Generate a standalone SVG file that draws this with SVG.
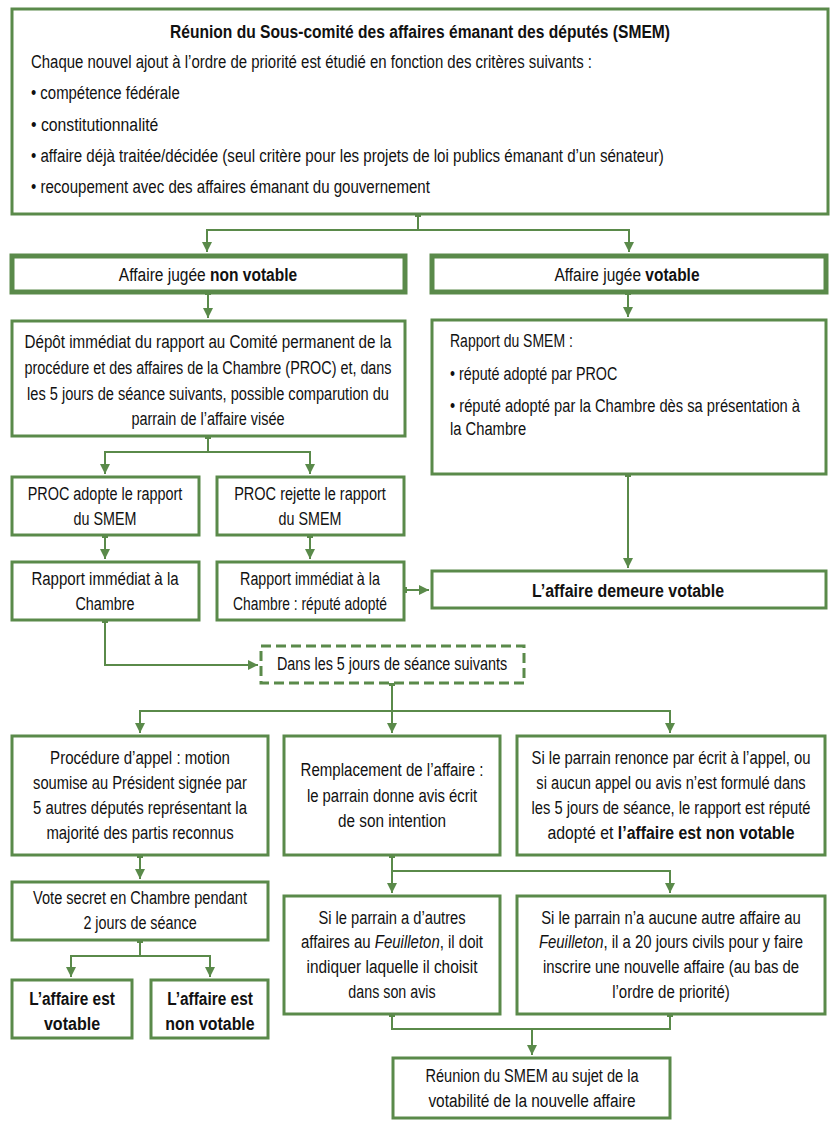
<svg xmlns="http://www.w3.org/2000/svg" width="838" height="1127" viewBox="0 0 838 1127">
<style>
.box{fill:#fff;stroke:#5a8a4a;stroke-width:3}
.heavy{stroke-width:5}
.dash{stroke-dasharray:10 5}
.conn{fill:none;stroke:#5a8a4a;stroke-width:2}
text{font-family:"Liberation Sans",Arial,sans-serif;font-size:19px;fill:#111}
.c{text-anchor:middle}
.b{font-weight:bold}
.i{font-style:italic}
</style>
<defs>
<marker id="ah" viewBox="0 0 10 10" refX="10" refY="5" markerWidth="10" markerHeight="10" markerUnits="userSpaceOnUse" orient="auto"><path d="M0,0 L10,5 L0,10 z" fill="#5a8a4a"/></marker>
<marker id="sq" viewBox="0 0 6 6" refX="3" refY="3" markerWidth="6" markerHeight="6" markerUnits="userSpaceOnUse"><rect width="6" height="6" fill="#5a8a4a"/></marker>
</defs>

<g id="connectors">
<path class="conn" marker-start="url(#sq)" marker-end="url(#ah)" d="M418,214 V230 H207 V252"/>
<path class="conn" marker-end="url(#ah)" d="M418,230 H629 V252"/>
<path class="conn" marker-start="url(#sq)" marker-end="url(#ah)" d="M208,292 V318"/>
<path class="conn" marker-start="url(#sq)" marker-end="url(#ah)" d="M628,292 V317"/>
<path class="conn" marker-start="url(#sq)" marker-end="url(#ah)" d="M208,436 V452 H105 V474"/>
<path class="conn" marker-end="url(#ah)" d="M208,452 H310 V474"/>
<path class="conn" marker-start="url(#sq)" marker-end="url(#ah)" d="M105,535 V559"/>
<path class="conn" marker-start="url(#sq)" marker-end="url(#ah)" d="M310,535 V559"/>
<path class="conn" marker-start="url(#sq)" marker-end="url(#ah)" d="M404,590 H429"/>
<path class="conn" marker-start="url(#sq)" marker-end="url(#ah)" d="M628,474 V568"/>
<path class="conn" marker-start="url(#sq)" marker-end="url(#ah)" d="M105,620 V665 H258"/>
<path class="conn" marker-start="url(#sq)" marker-end="url(#ah)" d="M392,683 V733"/>
<path class="conn" marker-end="url(#ah)" d="M392,711 H140 V733"/>
<path class="conn" marker-end="url(#ah)" d="M392,711 H670 V733"/>
<path class="conn" marker-start="url(#sq)" marker-end="url(#ah)" d="M140,855 V879"/>
<path class="conn" marker-start="url(#sq)" marker-end="url(#ah)" d="M140,940 V956 H71 V977"/>
<path class="conn" marker-end="url(#ah)" d="M140,956 H210 V977"/>
<path class="conn" marker-start="url(#sq)" marker-end="url(#ah)" d="M392,855 V893"/>
<path class="conn" marker-end="url(#ah)" d="M392,871 H670 V893"/>
<path class="conn" marker-start="url(#sq)" marker-end="url(#sq)" d="M392,1014 V1029 H670 V1014"/>
<path class="conn" marker-end="url(#ah)" d="M532,1029 V1055"/>
</g>

<g id="n_top">
<rect class="box" x="12" y="9" width="816" height="205"/>
<text class="c b" transform="translate(420,38) scale(0.76,1)" textLength="658" lengthAdjust="spacingAndGlyphs">Réunion du Sous-comité des affaires émanant des députés (SMEM)</text>
<text transform="translate(31,68) scale(0.74,1)" textLength="758" lengthAdjust="spacingAndGlyphs">Chaque nouvel ajout à l’ordre de priorité est étudié en fonction des critères suivants :</text>
<text transform="translate(31,99) scale(0.74,1)" textLength="201" lengthAdjust="spacingAndGlyphs">• compétence fédérale</text>
<text transform="translate(31,131) scale(0.74,1)" textLength="172" lengthAdjust="spacingAndGlyphs">• constitutionnalité</text>
<text transform="translate(31,162) scale(0.74,1)" textLength="855" lengthAdjust="spacingAndGlyphs">• affaire déjà traitée/décidée (seul critère pour les projets de loi publics émanant d’un sénateur)</text>
<text transform="translate(31,193) scale(0.74,1)" textLength="539" lengthAdjust="spacingAndGlyphs">• recoupement avec des affaires émanant du gouvernement</text>
</g>

<g id="n_nonvot">
<rect class="box heavy" x="12" y="256" width="393" height="36"/>
<text class="c" transform="translate(208,281) scale(0.74,1)" textLength="241" lengthAdjust="spacingAndGlyphs">Affaire jugée <tspan class="b">non votable</tspan></text>
</g>

<g id="n_vot">
<rect class="box heavy" x="432" y="256" width="394" height="36"/>
<text class="c" transform="translate(627,281) scale(0.74,1)" textLength="196" lengthAdjust="spacingAndGlyphs">Affaire jugée <tspan class="b">votable</tspan></text>
</g>

<g id="n_depot">
<rect class="box" x="12" y="321" width="393" height="115"/>
<text class="c" transform="translate(208,348) scale(0.74,1)" textLength="496" lengthAdjust="spacingAndGlyphs">Dépôt immédiat du rapport au Comité permanent de la</text>
<text class="c" transform="translate(208,374) scale(0.74,1)" textLength="496" lengthAdjust="spacingAndGlyphs">procédure et des affaires de la Chambre (PROC) et, dans</text>
<text class="c" transform="translate(208,400) scale(0.74,1)" textLength="489" lengthAdjust="spacingAndGlyphs">les 5 jours de séance suivants, possible comparution du</text>
<text class="c" transform="translate(208,425) scale(0.74,1)" textLength="207" lengthAdjust="spacingAndGlyphs">parrain de l’affaire visée</text>
</g>

<g id="n_rapport">
<rect class="box" x="432" y="320" width="394" height="154"/>
<text transform="translate(450,347) scale(0.74,1)" textLength="166" lengthAdjust="spacingAndGlyphs">Rapport du SMEM :</text>
<text transform="translate(450,380) scale(0.74,1)" textLength="226" lengthAdjust="spacingAndGlyphs">• réputé adopté par PROC</text>
<text transform="translate(450,412) scale(0.74,1)" textLength="473" lengthAdjust="spacingAndGlyphs">• réputé adopté par la Chambre dès sa présentation à</text>
<text transform="translate(450,435) scale(0.74,1)" textLength="103" lengthAdjust="spacingAndGlyphs">la Chambre</text>
</g>

<g id="n_adopte">
<rect class="box" x="12" y="477" width="187" height="58"/>
<text class="c" transform="translate(105,500) scale(0.74,1)" textLength="209" lengthAdjust="spacingAndGlyphs">PROC adopte le rapport</text>
<text class="c" transform="translate(105,525) scale(0.74,1)" textLength="85" lengthAdjust="spacingAndGlyphs">du SMEM</text>
</g>

<g id="n_rejette">
<rect class="box" x="217" y="477" width="187" height="58"/>
<text class="c" transform="translate(310,500) scale(0.74,1)" textLength="205" lengthAdjust="spacingAndGlyphs">PROC rejette le rapport</text>
<text class="c" transform="translate(310,525) scale(0.74,1)" textLength="85" lengthAdjust="spacingAndGlyphs">du SMEM</text>
</g>

<g id="n_rap1">
<rect class="box" x="12" y="562" width="187" height="58"/>
<text class="c" transform="translate(105,585) scale(0.74,1)" textLength="199" lengthAdjust="spacingAndGlyphs">Rapport immédiat à la</text>
<text class="c" transform="translate(105,610) scale(0.74,1)" textLength="80" lengthAdjust="spacingAndGlyphs">Chambre</text>
</g>

<g id="n_rap2">
<rect class="box" x="217" y="562" width="187" height="58"/>
<text class="c" transform="translate(310,585) scale(0.74,1)" textLength="189" lengthAdjust="spacingAndGlyphs">Rapport immédiat à la</text>
<text class="c" transform="translate(310,610) scale(0.74,1)" textLength="208" lengthAdjust="spacingAndGlyphs">Chambre : réputé adopté</text>
</g>

<g id="n_demeure">
<rect class="box" x="432" y="571" width="394" height="37"/>
<text class="c b" transform="translate(628,597) scale(0.72,1)" textLength="267" lengthAdjust="spacingAndGlyphs">L’affaire demeure votable</text>
</g>

<g id="n_dans">
<rect class="box dash" x="261" y="646" width="263" height="37"/>
<text class="c" transform="translate(392,670) scale(0.74,1)" textLength="311" lengthAdjust="spacingAndGlyphs">Dans les 5 jours de séance suivants</text>
</g>

<g id="n_appel">
<rect class="box" x="12" y="736" width="256" height="119"/>
<text class="c" transform="translate(140,764) scale(0.74,1)" textLength="243" lengthAdjust="spacingAndGlyphs">Procédure d’appel : motion</text>
<text class="c" transform="translate(140,789) scale(0.74,1)" textLength="289" lengthAdjust="spacingAndGlyphs">soumise au Président signée par</text>
<text class="c" transform="translate(140,814) scale(0.74,1)" textLength="289" lengthAdjust="spacingAndGlyphs">5 autres députés représentant la</text>
<text class="c" transform="translate(140,839) scale(0.74,1)" textLength="253" lengthAdjust="spacingAndGlyphs">majorité des partis reconnus</text>
</g>

<g id="n_rempl">
<rect class="box" x="284" y="736" width="216" height="119"/>
<text class="c" transform="translate(392,776) scale(0.74,1)" textLength="247" lengthAdjust="spacingAndGlyphs">Remplacement de l’affaire :</text>
<text class="c" transform="translate(392,802) scale(0.74,1)" textLength="230" lengthAdjust="spacingAndGlyphs">le parrain donne avis écrit</text>
<text class="c" transform="translate(392,827) scale(0.74,1)" textLength="146" lengthAdjust="spacingAndGlyphs">de son intention</text>
</g>

<g id="n_renonce">
<rect class="box" x="517" y="736" width="308" height="119"/>
<text class="c" transform="translate(671,764) scale(0.74,1)" textLength="377" lengthAdjust="spacingAndGlyphs">Si le parrain renonce par écrit à l’appel, ou</text>
<text class="c" transform="translate(671,789) scale(0.74,1)" textLength="364" lengthAdjust="spacingAndGlyphs">si aucun appel ou avis n’est formulé dans</text>
<text class="c" transform="translate(671,814) scale(0.74,1)" textLength="377" lengthAdjust="spacingAndGlyphs">les 5 jours de séance, le rapport est réputé</text>
<text class="c" transform="translate(671,839) scale(0.74,1)" textLength="334" lengthAdjust="spacingAndGlyphs">adopté et <tspan class="b">l’affaire est non votable</tspan></text>
</g>

<g id="n_vote">
<rect class="box" x="12" y="882" width="256" height="58"/>
<text class="c" transform="translate(140,904) scale(0.74,1)" textLength="289" lengthAdjust="spacingAndGlyphs">Vote secret en Chambre pendant</text>
<text class="c" transform="translate(140,929) scale(0.74,1)" textLength="153" lengthAdjust="spacingAndGlyphs">2 jours de séance</text>
</g>

<g id="n_estvot">
<rect class="box" x="12" y="980" width="120" height="58"/>
<text class="c b" transform="translate(72,1005) scale(0.72,1)" textLength="119" lengthAdjust="spacingAndGlyphs">L’affaire est</text>
<text class="c b" transform="translate(72,1030) scale(0.72,1)" textLength="78" lengthAdjust="spacingAndGlyphs">votable</text>
</g>

<g id="n_estnonvot">
<rect class="box" x="151" y="980" width="117" height="58"/>
<text class="c b" transform="translate(210,1005) scale(0.72,1)" textLength="119" lengthAdjust="spacingAndGlyphs">L’affaire est</text>
<text class="c b" transform="translate(210,1030) scale(0.72,1)" textLength="124" lengthAdjust="spacingAndGlyphs">non votable</text>
</g>

<g id="n_autres">
<rect class="box" x="284" y="896" width="216" height="118"/>
<text class="c" transform="translate(392,924) scale(0.74,1)" textLength="199" lengthAdjust="spacingAndGlyphs">Si le parrain a d’autres</text>
<text class="c" transform="translate(392,948) scale(0.74,1)" textLength="246" lengthAdjust="spacingAndGlyphs">affaires au <tspan class="i">Feuilleton</tspan>, il doit</text>
<text class="c" transform="translate(392,973) scale(0.74,1)" textLength="231" lengthAdjust="spacingAndGlyphs">indiquer laquelle il choisit</text>
<text class="c" transform="translate(392,998) scale(0.74,1)" textLength="118" lengthAdjust="spacingAndGlyphs">dans son avis</text>
</g>

<g id="n_aucune">
<rect class="box" x="517" y="896" width="308" height="118"/>
<text class="c" transform="translate(671,924) scale(0.74,1)" textLength="351" lengthAdjust="spacingAndGlyphs">Si le parrain n’a aucune autre affaire au</text>
<text class="c" transform="translate(671,948) scale(0.74,1)" textLength="357" lengthAdjust="spacingAndGlyphs"><tspan class="i">Feuilleton</tspan>, il a 20 jours civils pour y faire</text>
<text class="c" transform="translate(671,973) scale(0.74,1)" textLength="346" lengthAdjust="spacingAndGlyphs">inscrire une nouvelle affaire (au bas de</text>
<text class="c" transform="translate(671,998) scale(0.74,1)" textLength="159" lengthAdjust="spacingAndGlyphs">l’ordre de priorité)</text>
</g>

<g id="n_reunion">
<rect class="box" x="393" y="1058" width="277" height="60"/>
<text class="c" transform="translate(532,1082) scale(0.74,1)" textLength="288" lengthAdjust="spacingAndGlyphs">Réunion du SMEM au sujet de la</text>
<text class="c" transform="translate(532,1107) scale(0.74,1)" textLength="280" lengthAdjust="spacingAndGlyphs">votabilité de la nouvelle affaire</text>
</g>
</svg>
